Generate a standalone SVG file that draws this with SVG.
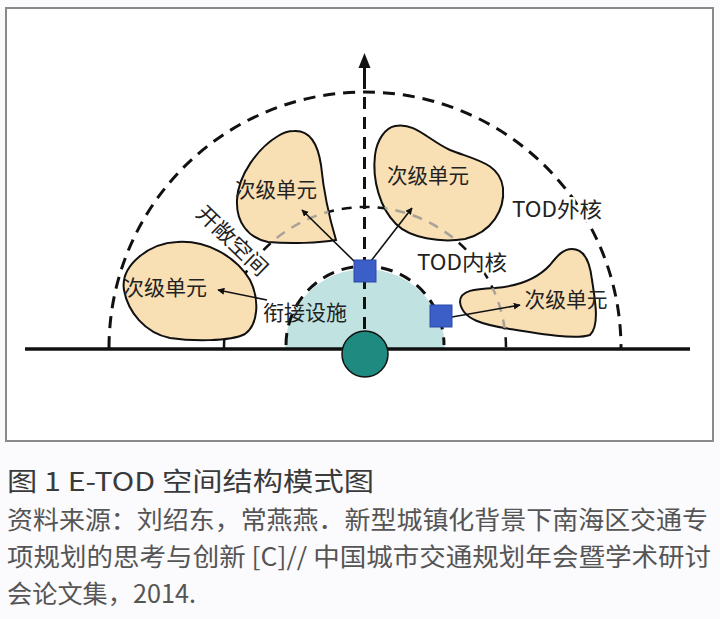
<svg xmlns="http://www.w3.org/2000/svg" width="720" height="619" viewBox="0 0 720 619">
<defs>
<style>
.lbl{font-family:"Noto Sans CJK SC","Noto Sans",sans-serif;font-size:21px;fill:#222;}
.halo{stroke:#ffffff;stroke-width:5;stroke-linejoin:round;paint-order:stroke;}
.cap{font-family:"Noto Sans CJK SC","Noto Sans",sans-serif;fill:#555;}
.blob{fill:#f8dfb4;stroke:#111;stroke-width:2;}
.dash{fill:none;stroke:#111;stroke-width:3;stroke-dasharray:12 8;}
.link{stroke:#111;stroke-width:1.6;fill:none;marker-end:url(#ah);}
.sq{fill:#3b5fc6;stroke:#2c4aa8;stroke-width:1;}
</style>
<marker id="ah" viewBox="0 0 10 10" refX="9" refY="5" markerWidth="7" markerHeight="7" orient="auto" markerUnits="userSpaceOnUse">
<path d="M0,0 L10,5 L0,10 Z" fill="#111"/>
</marker>
<path id="shapeA" d="M294,131 C310,130 318,145 321,165 C324,195 330,220 336,240 C320,243 290,244 268,242 C248,238 236,222 237,200 C238,175 258,148 278,136 C284,132 289,131 294,131 Z"/>
<path id="shapeB" d="M177,242 C205,240 235,255 250,280 C260,300 258,325 245,334 C230,342 190,341 170,338 C145,333 128,312 124,290 C120,265 150,243 177,242 Z"/>
<path id="shapeC" d="M395,126 C415,122 428,140 450,150 C475,160 500,163 503,188 C505,210 492,232 465,239 C440,243 410,238 396,224 C380,208 372,180 375,155 C377,140 385,128 395,126 Z"/>
<path id="shapeD" d="M572,249 C585,249 590,262 592,280 C595,300 600,325 590,335 C575,340 540,334 510,329 C485,325 462,320 460,302 C460,290 475,289 495,288 C520,286 538,278 550,265 C557,256 563,249 572,249 Z"/>
<clipPath id="seeThrough">
<use href="#shapeA"/>
<use href="#shapeC"/>
<use href="#shapeD"/>
</clipPath>
</defs>
<rect x="0" y="0" width="720" height="619" fill="#fbfafc"/>
<rect id="frame" x="6" y="8" width="707" height="433" fill="#ffffff" stroke="#8a8a8a" stroke-width="2"/>

<g id="station-area">
<path d="M285,349 A80,80 0 0 1 445,349 Z" fill="#c0e3e2"/>
<path d="M286,345 A79,79 0 0 1 444,345" class="dash" stroke-dasharray="10 7"/>
</g>

<g id="inner-core-ring">
<path d="M224,348 A141,141 0 0 1 506,348" fill="none" stroke="#111" stroke-width="2.5" stroke-dasharray="10 8"/>
</g>
<g id="outer-core-ring">
<path d="M109,348 A256,256 0 0 1 621,348" class="dash"/>
</g>

<g id="axis">
<line x1="364.5" y1="349" x2="364.5" y2="74" class="dash" stroke-dasharray="13 8"/>
<line x1="364.5" y1="78" x2="364.5" y2="64" stroke="#111" stroke-width="3"/>
<path d="M364.5,53 L370.5,68 L358.5,68 Z" fill="#111"/>
</g>

<g id="unit-top-left">
<use href="#shapeA" class="blob"/>
<text class="lbl" x="276" y="197" text-anchor="middle" textLength="82" lengthAdjust="spacingAndGlyphs">次级单元</text>
</g>

<g id="unit-left">
<use href="#shapeB" class="blob"/>
<text class="lbl" x="165" y="295" text-anchor="middle" textLength="84" lengthAdjust="spacingAndGlyphs">次级单元</text>
</g>

<g id="unit-top-right">
<use href="#shapeC" class="blob"/>
<text class="lbl" x="428" y="183" text-anchor="middle" textLength="82" lengthAdjust="spacingAndGlyphs">次级单元</text>
</g>

<g id="unit-right">
<use href="#shapeD" class="blob"/>
<text class="lbl" x="566" y="307" text-anchor="middle" textLength="83" lengthAdjust="spacingAndGlyphs">次级单元</text>
</g>

<g id="inner-core-ring-through-units" clip-path="url(#seeThrough)">
<path d="M224,348 A141,141 0 0 1 506,348" fill="none" stroke="#a8a298" stroke-width="2.5" stroke-dasharray="10 8"/>
</g>

<g id="ground">
<line x1="25" y1="349" x2="690" y2="349" stroke="#111" stroke-width="3.5"/>
</g>

<g id="connectors">
<line class="link" x1="356" y1="263" x2="302" y2="210"/>
<line class="link" x1="371" y1="261" x2="412" y2="208"/>
<line class="link" x1="267" y1="300" x2="218" y2="290"/>
<line class="link" x1="452" y1="317" x2="520" y2="305"/>
</g>

<g id="transfer-facility-1"><rect class="sq" x="354" y="260" width="22" height="22"/></g>
<g id="transfer-facility-2"><rect class="sq" x="430" y="305" width="22" height="22"/></g>

<g id="station"><circle cx="365" cy="354" r="23" fill="#1f8b80" stroke="#111" stroke-width="1.5"/></g>

<g id="labels">
<text class="lbl" x="305" y="320" text-anchor="middle" textLength="84" lengthAdjust="spacingAndGlyphs">衔接设施</text>
<text class="lbl halo" x="557" y="217" text-anchor="middle" textLength="90" lengthAdjust="spacingAndGlyphs">TOD外核</text>
<text class="lbl halo" x="462" y="270" text-anchor="middle" textLength="90" lengthAdjust="spacingAndGlyphs">TOD内核</text>
<text class="lbl halo" transform="translate(232,241) rotate(44)" x="0" y="7" text-anchor="middle" textLength="90" lengthAdjust="spacingAndGlyphs">开敞空间</text>
</g>

<g id="caption">
<text class="cap" x="7" y="491" font-size="26" style="fill:#3a3a3a" textLength="367" lengthAdjust="spacingAndGlyphs">图 1 E-TOD 空间结构模式图</text>
<text class="cap" x="7" y="529" font-size="25" textLength="701" lengthAdjust="spacingAndGlyphs">资料来源：刘绍东，常燕燕．新型城镇化背景下南海区交通专</text>
<text class="cap" x="7" y="566" font-size="25" textLength="704" lengthAdjust="spacingAndGlyphs">项规划的思考与创新 [C]// 中国城市交通规划年会暨学术研讨</text>
<text class="cap" x="7" y="603" font-size="25" textLength="189" lengthAdjust="spacingAndGlyphs">会论文集，2014.</text>
</g>
</svg>
